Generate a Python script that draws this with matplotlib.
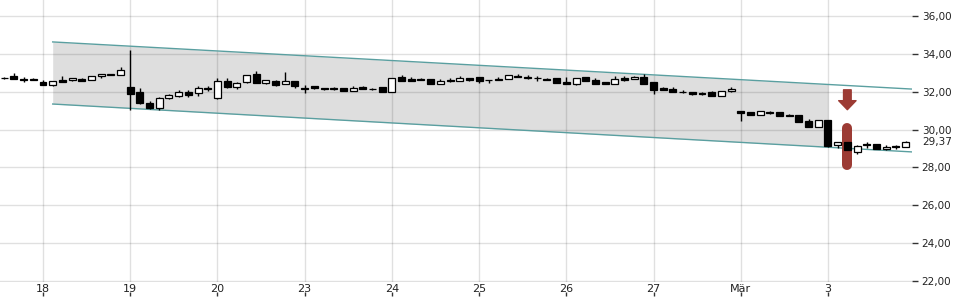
import numpy as np
import matplotlib
matplotlib.use("Agg")
import matplotlib.pyplot as plt
from matplotlib import font_manager as fm
from matplotlib.transforms import blended_transform_factory

# hourly candles, 9 per trading day
opens = [32.74, 32.84, 32.67, 32.64, 32.51, 32.38, 32.62, 32.61, 32.69, 32.62,
         32.84, 32.87, 32.87, 32.27, 31.97, 31.42, 31.16, 31.65, 31.77, 31.99,
         31.92, 32.20, 31.65, 32.58, 32.24, 32.51, 32.94, 32.44, 32.57, 32.43,
         32.55, 32.19, 32.30, 32.17, 32.20, 32.18, 32.06, 32.25, 32.17, 32.23,
         32.00, 32.80, 32.68, 32.66, 32.67, 32.42, 32.63, 32.58, 32.71, 32.76,
         32.63, 32.68, 32.67, 32.84, 32.78, 32.72, 32.69, 32.71, 32.50, 32.41,
         32.76, 32.62, 32.50, 32.40, 32.70, 32.68, 32.80, 32.50, 32.20, 32.14,
         32.00, 31.98, 31.95, 31.96, 31.80, 32.02, 30.97, 30.93, 30.78, 30.92,
         30.93, 30.76, 30.75, 30.45, 30.16, 30.51, 29.19, 29.33, 28.84, 29.23,
         29.22, 28.95, 29.11, 29.08]
highs = [32.78, 32.97, 32.76, 32.72, 32.62, 32.58, 32.83, 32.72, 32.70, 32.84,
         32.95, 32.95, 33.32, 34.20, 32.20, 31.50, 31.74, 31.88, 32.09, 32.09,
         32.30, 32.30, 32.70, 32.70, 32.50, 32.90, 33.10, 32.63, 32.62, 33.04,
         32.56, 32.35, 32.31, 32.22, 32.24, 32.19, 32.30, 32.30, 32.18, 32.24,
         32.72, 32.90, 32.80, 32.72, 32.68, 32.67, 32.70, 32.85, 32.72, 32.77,
         32.64, 32.76, 32.89, 32.92, 32.88, 32.85, 32.70, 32.72, 32.80, 32.75,
         32.80, 32.72, 32.51, 32.85, 32.85, 32.81, 32.94, 32.51, 32.27, 32.27,
         32.11, 31.99, 31.96, 32.02, 32.03, 32.27, 30.98, 30.95, 30.97, 31.00,
         30.94, 30.80, 30.76, 30.56, 30.50, 30.52, 29.34, 29.34, 29.16, 29.36,
         29.23, 29.19, 29.19, 29.38]
lows = [32.68, 32.66, 32.50, 32.60, 32.37, 32.32, 32.51, 32.59, 32.55, 32.60,
        32.72, 32.86, 32.86, 31.03, 31.35, 31.08, 31.03, 31.60, 31.70, 31.74,
        31.79, 32.03, 31.63, 32.20, 32.14, 32.44, 32.46, 32.43, 32.28, 32.42,
        32.18, 31.95, 32.16, 32.08, 32.10, 32.05, 32.05, 32.14, 32.11, 31.99,
        31.99, 32.57, 32.58, 32.62, 32.41, 32.41, 32.53, 32.57, 32.59, 32.48,
        32.44, 32.60, 32.66, 32.76, 32.69, 32.58, 32.61, 32.47, 32.40, 32.34,
        32.54, 32.41, 32.39, 32.39, 32.59, 32.67, 32.41, 31.88, 32.08, 31.98,
        31.95, 31.85, 31.85, 31.79, 31.79, 32.01, 30.47, 30.76, 30.77, 30.83,
        30.72, 30.70, 30.41, 30.15, 30.15, 29.06, 29.01, 28.90, 28.73, 29.04,
        28.96, 28.94, 28.98, 29.07]
closes = [32.70, 32.68, 32.60, 32.63, 32.37, 32.55, 32.52, 32.71, 32.55, 32.83,
          32.94, 32.88, 33.16, 31.90, 31.42, 31.12, 31.65, 31.83, 31.99, 31.85,
          32.18, 32.12, 32.58, 32.23, 32.48, 32.87, 32.48, 32.62, 32.38, 32.55,
          32.30, 32.17, 32.22, 32.14, 32.12, 32.06, 32.18, 32.16, 32.12, 32.00,
          32.71, 32.58, 32.59, 32.63, 32.42, 32.57, 32.54, 32.74, 32.60, 32.55,
          32.60, 32.61, 32.88, 32.77, 32.70, 32.71, 32.62, 32.48, 32.42, 32.74,
          32.55, 32.42, 32.40, 32.67, 32.60, 32.80, 32.42, 32.10, 32.10, 31.99,
          31.96, 31.86, 31.86, 31.80, 32.02, 32.13, 30.85, 30.78, 30.96, 30.90,
          30.73, 30.74, 30.42, 30.16, 30.49, 29.13, 29.33, 28.92, 29.15, 29.20,
          28.97, 29.08, 29.09, 29.37]

day_idx = [4, 13, 22, 31, 40, 49, 58, 67, 76, 85]
day_labels = ["18", "19", "20", "23", "24", "25", "26", "27", "Mär", "3"]

# trend channel (candle index, price)
chan_x = [5, 93.67]
chan_upper = [34.63, 32.14]
chan_lower = [31.35, 28.82]
shade_end = 85

signal_idx = 87
arrow_from, arrow_to = 32.10, 31.05
bar_top, bar_bottom = 30.09, 28.13

last_price = 29.37
yticks = [22, 24, 26, 28, 30, 32, 34, 36]

names = {f.name for f in fm.fontManager.ttflist}
narrow = [f for f in ["DejaVu Sans Condensed", "Liberation Sans Narrow"] if f in names]
xfont = narrow + ["DejaVu Sans"]

fig = plt.figure(figsize=(9.6, 3.0), dpi=100)
ax = fig.add_axes([0.0, 1 - 281.6 / 300, 912 / 960, 281.6 / 300])

x = np.arange(len(opens))
o = np.array(opens)
c = np.array(closes)

# channel
cx = np.array(chan_x)
up_slope = (chan_upper[1] - chan_upper[0]) / (cx[1] - cx[0])
lo_slope = (chan_lower[1] - chan_lower[0]) / (cx[1] - cx[0])
sx = np.array([chan_x[0], shade_end])
ax.fill_between(sx, chan_upper[0] + up_slope * (sx - cx[0]),
                chan_lower[0] + lo_slope * (sx - cx[0]),
                color="#dedede", lw=0, zorder=0.2)
ax.plot(chan_x, chan_upper, color="#5a9fa0", lw=1.0, zorder=1)
ax.plot(chan_x, chan_lower, color="#5a9fa0", lw=1.0, zorder=1)

# signal marker
mark = "#9c3b34"
ax.plot([signal_idx, signal_idx], [bar_bottom, bar_top], color=mark, lw=7.2,
        solid_capstyle="round", zorder=1.5)
ax.annotate("", xy=(signal_idx, arrow_to), xytext=(signal_idx, arrow_from),
            arrowprops=dict(arrowstyle="simple,head_length=0.65,head_width=1.25,tail_width=0.55",
                            color=mark, mutation_scale=10, shrinkA=0, shrinkB=0),
            zorder=1.5)

# candles
ax.vlines(x, lows, highs, color="black", lw=1.0, zorder=2)
body_h = np.maximum(np.abs(c - o), 0.04)
face = np.where(c >= o, "white", "black")
ax.bar(x, body_h, bottom=np.minimum(o, c), width=0.72, color=face,
       edgecolor="black", linewidth=0.9, zorder=3)

ax.set_xlim(-0.4375, 93.67)
ax.set_ylim(21.97, 36.845)

ax.set_yticks(yticks)
ax.set_yticklabels([f"{v:.2f}".replace(".", ",") for v in yticks])
ax.yaxis.tick_right()
ax.tick_params(axis="y", length=4, width=1, color="#333333", pad=3,
               labelsize=7.5, labelcolor="#222222")

ax.set_xticks(day_idx)
ax.set_xticklabels(day_labels, family=xfont)
ax.tick_params(axis="x", length=0, pad=2, labelsize=8, labelcolor="#222222")

sec = ax.secondary_xaxis(-0.051)
sec.set_xticks(day_idx)
sec.set_xticklabels([])
sec.tick_params(axis="x", direction="in", length=3, width=1, color="#333333")
for s in sec.spines.values():
    s.set_visible(False)

ax.grid(True, color="#000000", alpha=0.12, lw=1)
ax.set_axisbelow(True)
for s in ax.spines.values():
    s.set_visible(False)

tr = blended_transform_factory(ax.transAxes, ax.transData)
ax.text(1.0 + 10 / 912, last_price, f"{last_price:.2f}".replace(".", ","),
        transform=tr, fontsize=7.5, color="#222222", va="center", ha="left")

fig.savefig("out.png", dpi=100)
